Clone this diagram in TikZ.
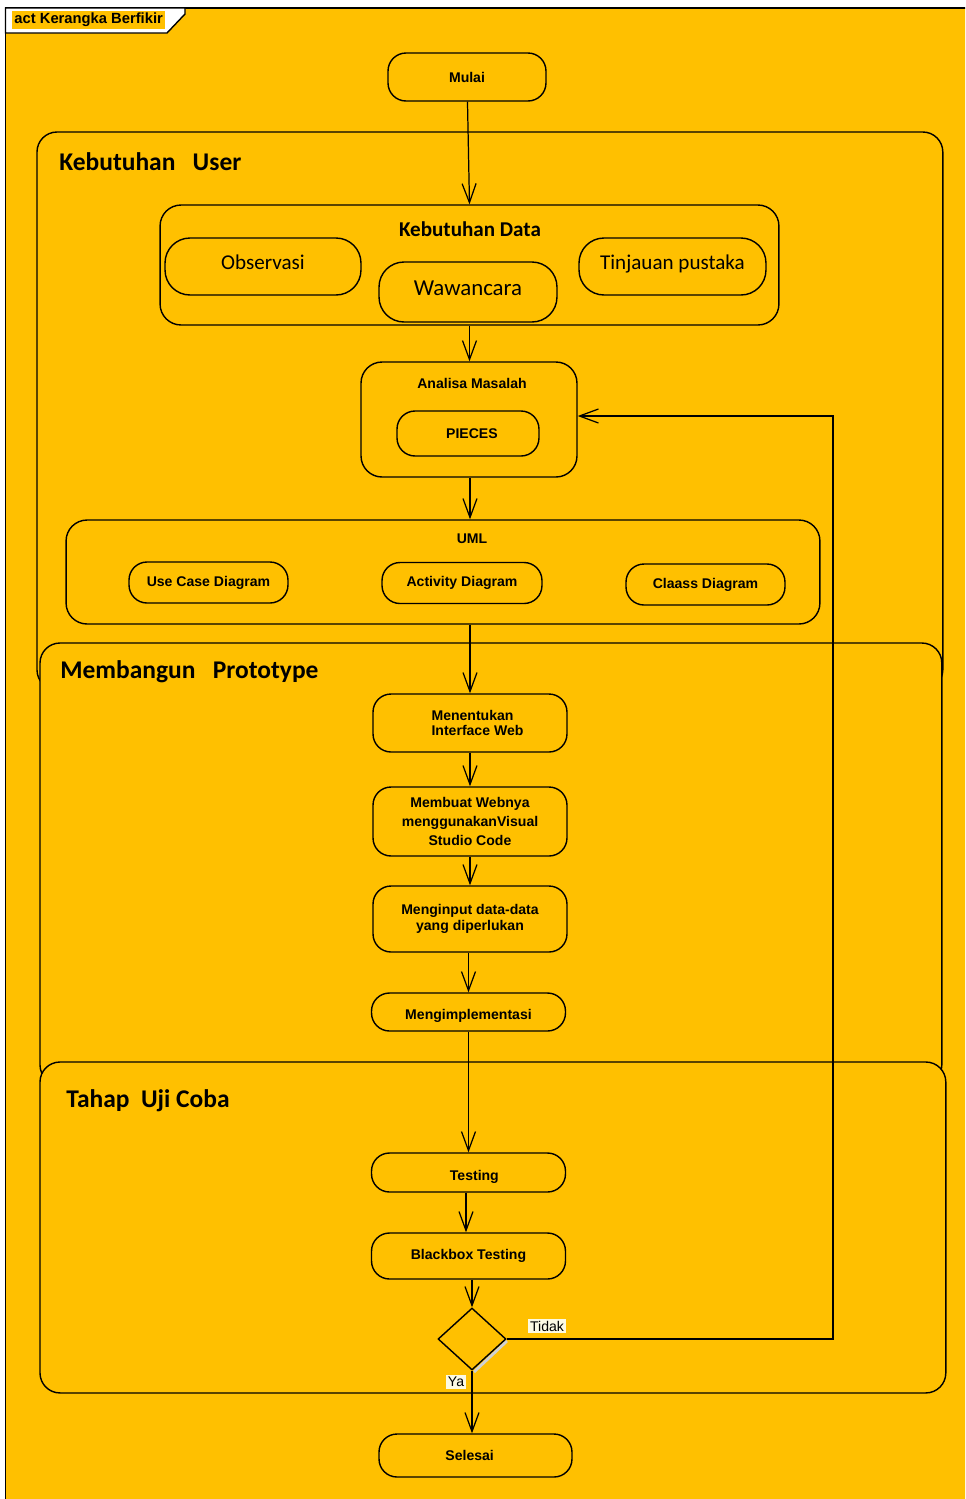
\documentclass[tikz,border=0pt]{standalone}
\usepackage{fontspec}
\setmainfont{Liberation Sans}
\newfontfamily\calfont{Carlito}
\usepackage{tikz}
\usetikzlibrary{arrows.meta, positioning, shapes.geometric, calc}
\definecolor{cyellow}{RGB}{255,192,0}
\definecolor{ccream}{RGB}{252,250,228}

\begin{document}
\begin{tikzpicture}[
  x=0.02cm, y=-0.02cm,
  region/.style = {rectangle, rounded corners=0.4cm, draw, fill=cyellow,
                   line width=0.8pt, inner sep=0pt, outer sep=0pt, anchor=north west},
  rtitle/.style = {anchor=west, inner sep=0pt, font=\calfont\bfseries\fontsize{14.5}{16}\selectfont},
  group/.style  = {rectangle, rounded corners=0.42cm, draw, fill=cyellow,
                   line width=0.8pt, inner sep=0pt},
  gtitle/.style = {inner sep=0pt, font=\bfseries\fontsize{8}{9}\selectfont},
  oval/.style   = {rectangle, rounded corners=0.5cm, draw, fill=cyellow, text depth=0.16cm,
                   line width=0.8pt, inner sep=0pt, font=\calfont\fontsize{12}{14}\selectfont},
  act/.style    = {rectangle, rounded corners=0.36cm, draw, fill=cyellow,
                   line width=0.8pt, inner sep=0pt, minimum width=3.88cm, align=center,
                   font=\bfseries\fontsize{8}{9}\selectfont},
  arr/.style    = {-{Straight Barb[length=0.38cm, width=0.28cm]}, line width=0.7pt},
  guard/.style  = {fill=ccream, inner sep=1pt, font=\fontsize{8}{9}\selectfont},
]
\useasboundingbox (0,0) rectangle (965,1499);
\clip (0,0) rectangle (965,1499);
\fill[white] (0,0) rectangle (965,1499);
% Frame and tab
\draw[fill=cyellow, line width=0.8pt] (5.5,8) rectangle (990,1520);
\draw[fill=white, line width=0.8pt] (5.5,8) -- (185,8) -- (185,14) -- (167,33) -- (5.5,33) -- cycle;
\node[anchor=west, fill=cyellow, inner sep=1.2pt, font=\bfseries\fontsize{8.4}{9}\selectfont]
  (frame) at (12,20) {act Kerangka Berfikir};
% Regions
\node[region, minimum width=18.12cm, minimum height=11.16cm] (user)  at (37,132) {};
\node[region, minimum width=18.04cm, minimum height=8.84cm]  (proto) at (40,643) {};
\node[region, minimum width=18.12cm, minimum height=6.62cm]  (uji)   at (40,1062) {};
\node[rtitle] (usert)  at (59,162)  {Kebutuhan\ \ \ User};
\node[rtitle] (protot) at (60,672)  {Membangun\ \ \ Prototype};
\node[rtitle] (ujit)   at (66,1101) {Tahap\ \ Uji Coba};
% Start
\node[act, minimum width=3.16cm, minimum height=0.96cm] (mulai) at (467,77) {Mulai};
% Kebutuhan Data
\node[group, minimum width=12.38cm, minimum height=2.4cm] (kdata) at (469.5,265) {};
\node[gtitle, font=\calfont\bfseries\fontsize{12}{14}\selectfont] (kdatat) at (470,229) {Kebutuhan Data};
\node[oval, minimum width=3.92cm, minimum height=1.14cm] (obs)  at (263,266.5) {Observasi};
\node[oval, minimum width=3.56cm, minimum height=1.2cm,
      font=\calfont\fontsize{13}{15}\selectfont]           (waw)  at (468,292)   {Wawancara};
\node[oval, minimum width=3.74cm, minimum height=1.14cm] (tinj) at (672.5,266.5) {Tinjauan pustaka};
% Analisa Masalah
\node[group, minimum width=4.32cm, minimum height=2.3cm] (analisa) at (469,419.5) {};
\node[gtitle] (analisat) at (472,383) {Analisa Masalah};
\node[act, minimum width=2.84cm, minimum height=0.9cm] (pieces) at (468,433.5) {\ \ PIECES};
% UML
\node[group, minimum width=15.08cm, minimum height=2.08cm] (uml) at (443,572) {};
\node[gtitle] (umlt) at (472,539) {UML};
\node[act, minimum width=3.18cm, minimum height=0.82cm] (usecase)  at (208.5,582.5) {Use Case Diagram};
\node[act, minimum width=3.2cm,  minimum height=0.82cm] (activity) at (462,583)     {Activity Diagram};
\node[act, minimum width=3.18cm, minimum height=0.82cm] (classd)   at (705.5,584.5) {Claass Diagram};
% Prototype steps
\node[act, minimum height=1.16cm, align=left] (menentukan) at (470,723)   {\hspace*{0.3cm}Menentukan\\\hspace*{0.3cm}Interface Web};
\node[act, minimum height=1.38cm, font=\bfseries\fontsize{8}{10.8}\selectfont]
                                              (membuat)    at (470,821.5) {Membuat Webnya\\menggunakanVisual\\Studio Code};
\node[act, minimum height=1.32cm]             (menginput)  at (470,919)   {Menginput data-data\\yang diperlukan};
\node[act, minimum height=0.76cm, text height=0.36cm] (implement) at (468.5,1012) {Mengimplementasi};
% Testing
\node[act, minimum height=0.78cm, text height=0.36cm] (testing)  at (468.5,1172.5) {\ \ \ Testing};
\node[act, minimum height=0.92cm] (blackbox) at (468.5,1256)   {Blackbox Testing};
\draw[black!18, line width=1.6pt] (507,1341) -- (474,1372);
\node[diamond, draw, fill=cyellow, line width=0.8pt, inner sep=0pt,
      minimum width=1.36cm, minimum height=1.24cm] (dec) at (472,1339) {};
\node[act, minimum width=3.86cm, minimum height=0.86cm] (selesai) at (475.5,1455.5) {Selesai\ \ \ };
% Arrows
\draw[arr] (mulai) -- (kdata.north);
\draw[arr] (kdata.south) -- (kdata.south |- analisa.north);
\draw[arr] (analisa.south -| menentukan) -- (menentukan |- uml.north);
\draw[arr] (menentukan.north |- uml.south) -- (menentukan.north);
\draw[arr] (menentukan) -- (membuat);
\draw[arr] (membuat) -- (menginput);
\draw[arr] (menginput.south -| implement) -- (implement.north);
\draw[arr] (implement) -- (testing);
\draw[arr] (testing.south -| 466,0) -- (blackbox.north -| 466,0);
\draw[arr] (blackbox.south -| dec) -- (dec.north);
\draw[arr] (dec.south) -- (dec.south |- selesai.north);
\coordinate (back) at (833,416);
\draw[arr] (dec.east) -| (back) -- (back -| analisa.east);
% Guards
\node[guard] (tidak) at (547,1326) {Tidak};
\node[guard] (ya)    at (456,1382) {Ya};
\end{tikzpicture}
\end{document}
